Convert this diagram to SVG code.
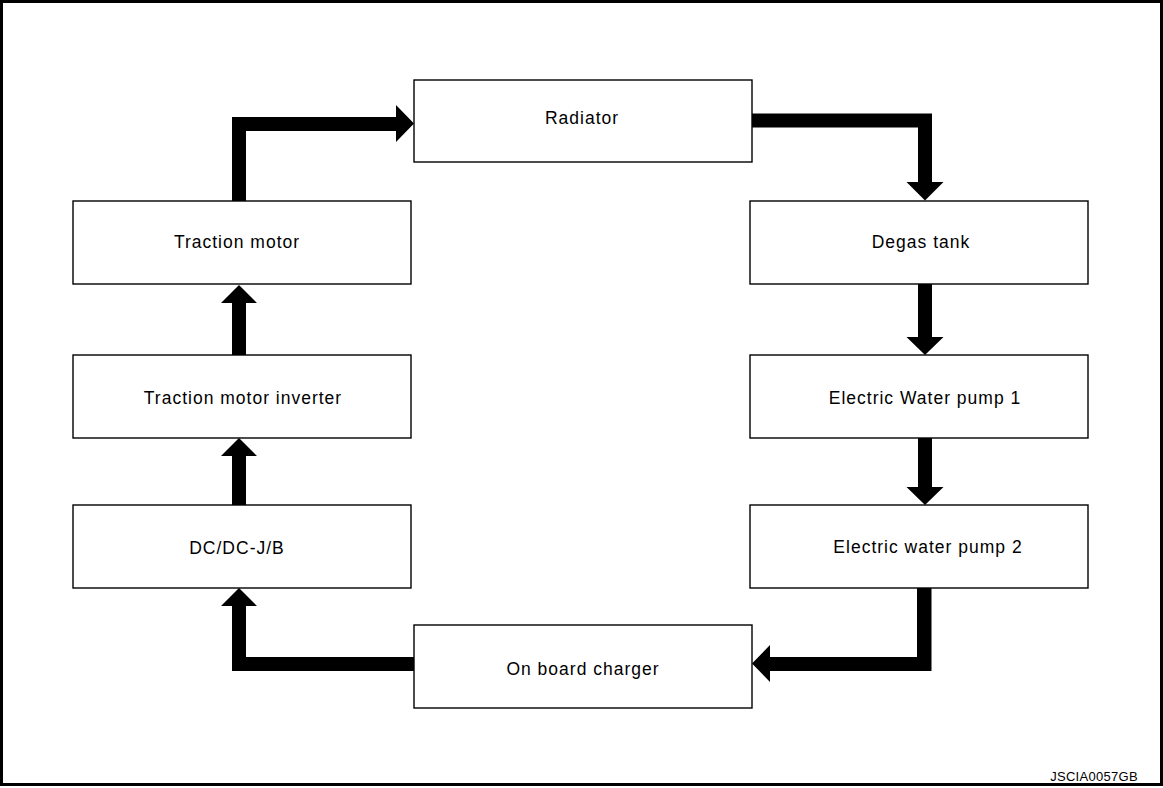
<svg xmlns="http://www.w3.org/2000/svg" width="1163" height="788" viewBox="0 0 1163 788">
<style>
.box{fill:#fff;stroke:#000;stroke-width:1.4}
.lbl{font-family:"Liberation Sans",Arial,sans-serif;font-size:17.5px;letter-spacing:1px;fill:#000;text-anchor:middle}
.arr{fill:#000;stroke:none}
.foot{font-family:"Liberation Sans",Arial,sans-serif;font-size:13px;letter-spacing:0.3px;fill:#000;text-anchor:end}
</style>
<rect x="0" y="0" width="1163" height="788" fill="#fff"/>
<rect x="1.5" y="1.5" width="1160" height="783" fill="none" stroke="#000" stroke-width="3"/>
<g id="radiator"><rect class="box" x="414" y="80" width="338" height="82"/><text class="lbl" x="582" y="124">Radiator</text></g>
<g id="traction-motor"><rect class="box" x="73" y="201" width="338" height="83"/><text class="lbl" x="237" y="248">Traction motor</text></g>
<g id="degas-tank"><rect class="box" x="750" y="201" width="338" height="83"/><text class="lbl" x="921" y="248">Degas tank</text></g>
<g id="traction-motor-inverter"><rect class="box" x="73" y="355" width="338" height="83"/><text class="lbl" x="243" y="404">Traction motor inverter</text></g>
<g id="electric-water-pump-1"><rect class="box" x="750" y="355" width="338" height="83"/><text class="lbl" x="925" y="404">Electric Water pump 1</text></g>
<g id="dcdc-jb"><rect class="box" x="73" y="505" width="338" height="83"/><text class="lbl" x="237" y="554">DC/DC-J/B</text></g>
<g id="electric-water-pump-2"><rect class="box" x="750" y="505" width="338" height="83"/><text class="lbl" x="928" y="553">Electric water pump 2</text></g>
<g id="on-board-charger"><rect class="box" x="414" y="625" width="338" height="83"/><text class="lbl" x="583" y="675">On board charger</text></g>
<g id="connectors">
<polygon class="arr" points="232,201 232,117 396,117 396,105 414,123.5 396,142 396,131 246,131 246,201"/>
<polygon class="arr" points="752,113.5 932,113.5 932,182 943.5,182 925,200.5 906.5,182 918,182 918,127.5 752,127.5"/>
<polygon class="arr" points="918,284 932,284 932,337 943.5,337 925,355 906.5,337 918,337"/>
<polygon class="arr" points="918,438 932,438 932,487 943.5,487 925,505 906.5,487 918,487"/>
<polygon class="arr" points="917,588 931.5,588 931.5,671 770,671 770,682 752,663.5 770,645 770,657 917,657"/>
<polygon class="arr" points="414,657 414,671 232,671 232,606 221,606 239,588 257,606 246,606 246,657"/>
<polygon class="arr" points="232,505 232,456 221,456 239,438 257,456 246,456 246,505"/>
<polygon class="arr" points="232,355 232,303 221,303 239,285 257,303 246,303 246,355"/>
</g>
<text class="foot" x="1138" y="781">JSCIA0057GB</text>
</svg>
